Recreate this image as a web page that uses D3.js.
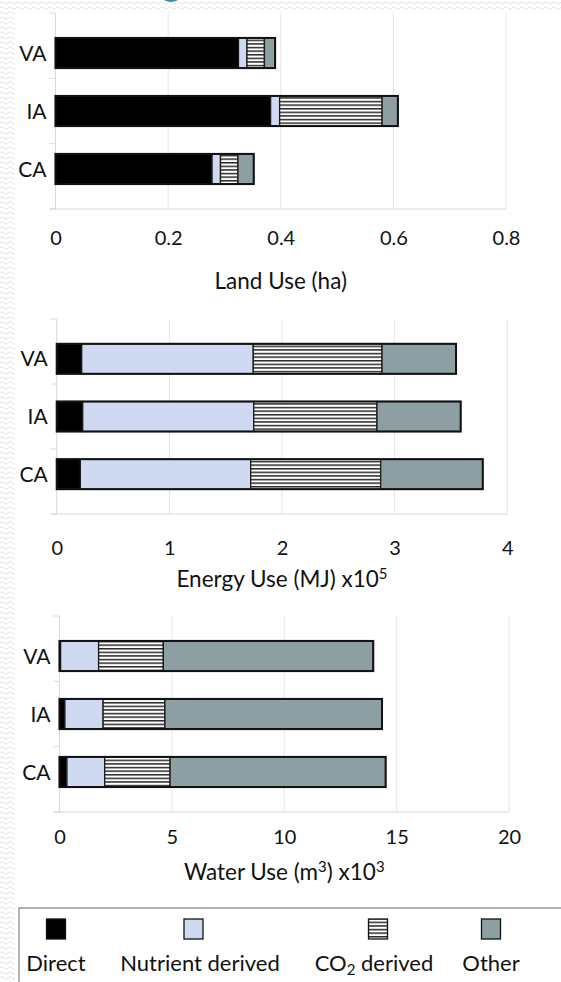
<!DOCTYPE html>
<html>
<head>
<meta charset="utf-8">
<script src="https://cdn.jsdelivr.net/npm/d3@7"></script>
<style>
  body { margin: 0; background: #fff; }
  svg text { font-family: Lato, "Open Sans", sans-serif; fill: #111; }
</style>
</head>
<body>
<div id="chart"></div>
<script>
// categories and series
var categories = ["VA", "IA", "CA"];
var seriesNames = ["Direct", "Nutrient derived", "CO2 derived", "Other"];

// land use (ha)
var landDirect   = [0.325, 0.382, 0.278];
var landNutrient = [0.015, 0.016, 0.015];
var landCO2      = [0.031, 0.182, 0.031];
var landOther    = [0.019, 0.028, 0.028];
var landTicks    = [0, 0.2, 0.4, 0.6, 0.8];

// energy use (MJ x10^5)
var energyDirect   = [0.222, 0.231, 0.210];
var energyNutrient = [1.523, 1.518, 1.512];
var energyCO2      = [1.143, 1.094, 1.154];
var energyOther    = [0.657, 0.743, 0.906];
var energyTicks    = [0, 1, 2, 3, 4];

// water use (m3 x10^3)
var waterDirect   = [0.05, 0.24, 0.33];
var waterNutrient = [1.69, 1.70, 1.68];
var waterCO2      = [2.88, 2.75, 2.91];
var waterOther    = [9.34, 9.66, 9.59];
var waterTicks    = [0, 5, 10, 15, 20];

var W = 561, H = 982;

var svg = d3.select("#chart")
  .append("svg")
    .attr("width", W)
    .attr("height", H);

var defs = svg.append("defs");

// wavy slide background
var wave = defs.append("pattern")
  .attr("id", "wave")
  .attr("patternUnits", "userSpaceOnUse")
  .attr("width", 8).attr("height", 5);
wave.append("path")
  .attr("d", "M0,3 Q2,0.5 4,3 T8,3")
  .attr("fill", "none")
  .attr("stroke", "#e2e2e2")
  .attr("stroke-width", 1);

var hatch = defs.append("pattern")
  .attr("id", "hatch")
  .attr("patternUnits", "userSpaceOnUse")
  .attr("width", 6).attr("height", 3.6);
hatch.append("rect").attr("width", 6).attr("height", 3.6).attr("fill", "#fff");
hatch.append("rect").attr("y", 0).attr("width", 6).attr("height", 1.5).attr("fill", "#2a2a2a");

svg.append("rect").attr("width", W).attr("height", 12).attr("fill", "url(#wave)");
svg.append("rect").attr("y", 12).attr("width", 15).attr("height", H - 12).attr("fill", "url(#wave)");
svg.append("ellipse")
  .attr("cx", 171).attr("cy", -4).attr("rx", 9).attr("ry", 6)
  .attr("fill", "#3d8fa8");

var fills = ["#000", "#cfd9f1", "url(#hatch)", "#8e9fa3"];

function drawPanel(cfg) {
  var x = d3.scaleLinear()
    .domain([cfg.ticks[0], cfg.ticks[cfg.ticks.length - 1]])
    .range([cfg.left, cfg.right]);

  var y = d3.scaleBand()
    .domain(categories)
    .range([cfg.top, cfg.bottom])
    .paddingInner(0.48)
    .paddingOuter(0.43);

  var g = svg.append("g");

  // gridlines
  g.selectAll(".grid")
    .data(cfg.ticks.slice(1))
    .enter().append("line")
      .attr("x1", function(d) { return x(d); })
      .attr("x2", function(d) { return x(d); })
      .attr("y1", cfg.top)
      .attr("y2", cfg.bottom)
      .attr("stroke", "#e6e6e6");

  // left axis with category boundary ticks
  g.append("line")
    .attr("x1", x(0)).attr("x2", x(0))
    .attr("y1", cfg.top).attr("y2", cfg.bottom)
    .attr("stroke", "#d8d8d8");
  var cy = d3.scaleLinear().domain([0, categories.length]).range([cfg.top, cfg.bottom]);
  g.selectAll(".ctick")
    .data(d3.range(categories.length + 1))
    .enter().append("line")
      .attr("x1", x(0) - 6).attr("x2", x(0))
      .attr("y1", function(d) { return cy(d); })
      .attr("y2", function(d) { return cy(d); })
      .attr("stroke", "#d8d8d8");

  // bottom axis
  var xAxis = g.append("g")
    .attr("transform", "translate(0," + cfg.bottom + ")")
    .call(d3.axisBottom(x).tickValues(cfg.ticks).tickSize(0).tickPadding(cfg.tickPad)
      .tickFormat(function(d) { return String(d); }));
  xAxis.select(".domain").remove();
  xAxis.append("line")
    .attr("x1", x(0) - 6).attr("x2", cfg.right)
    .attr("stroke", "#d8d8d8");
  xAxis.selectAll(".tick text")
    .style("font-size", "20px")
    .attr("fill", "#111");

  // category labels
  g.selectAll(".cat")
    .data(categories)
    .enter().append("text")
      .attr("x", x(0) - 9)
      .attr("y", function(d) { return y(d) + y.bandwidth() / 2; })
      .attr("dy", "0.36em")
      .attr("text-anchor", "end")
      .style("font-size", "21px")
      .text(function(d) { return d; });

  // stacked segments
  var rows = categories.map(function(c, i) {
    var r = { cat: c };
    seriesNames.forEach(function(s, k) { r[s] = cfg.series[k][i]; });
    return r;
  });
  var stacked = d3.stack().keys(seriesNames)(rows);

  var layer = g.selectAll(".layer")
    .data(stacked)
    .enter().append("g")
      .attr("fill", function(d, k) { return fills[k]; });

  layer.selectAll("rect")
    .data(function(d) { return d; })
    .enter().append("rect")
      .attr("x", function(d) { return x(d[0]); })
      .attr("y", function(d) { return y(d.data.cat); })
      .attr("width", function(d) { return x(d[1]) - x(d[0]); })
      .attr("height", y.bandwidth())
      .attr("stroke", "#1a1a1a")
      .attr("stroke-width", 1.3);

  // outer outline
  g.selectAll(".outline")
    .data(rows)
    .enter().append("rect")
      .attr("x", x(0))
      .attr("y", function(d) { return y(d.cat); })
      .attr("width", function(d) { return x(d3.sum(seriesNames, function(s) { return d[s]; })) - x(0); })
      .attr("height", y.bandwidth())
      .attr("fill", "none")
      .attr("stroke", "#111")
      .attr("stroke-width", 2);

  // axis title
  var t = g.append("text")
    .attr("x", (cfg.left + cfg.right) / 2)
    .attr("y", cfg.titleY)
    .attr("text-anchor", "middle")
    .style("font-size", "22.5px");
  cfg.title.forEach(function(p) {
    var s = t.append("tspan").text(p.t);
    if (p.sup) s.attr("dy", "-8").style("font-size", "15px");
    else if (p.back) s.attr("dy", "8");
  });
}

drawPanel({
  series: [landDirect, landNutrient, landCO2, landOther],
  ticks: landTicks,
  left: 55.5, right: 506, top: 13, bottom: 209,
  tickPad: 22, titleY: 289,
  title: [{ t: "Land Use (ha)" }]
});

drawPanel({
  series: [energyDirect, energyNutrient, energyCO2, energyOther],
  ticks: energyTicks,
  left: 56.7, right: 507.3, top: 319, bottom: 514,
  tickPad: 27, titleY: 587,
  title: [{ t: "Energy Use (MJ) x10" }, { t: "5", sup: true }]
});

drawPanel({
  series: [waterDirect, waterNutrient, waterCO2, waterOther],
  ticks: waterTicks,
  left: 59.5, right: 509, top: 616, bottom: 812,
  tickPad: 18, titleY: 880,
  title: [{ t: "Water Use (m" }, { t: "3", sup: true }, { t: ") x10", back: true }, { t: "3", sup: true }]
});

// legend
var legend = svg.append("g");
legend.append("rect")
  .attr("x", 19).attr("y", 908)
  .attr("width", W).attr("height", 100)
  .attr("fill", "#fff")
  .attr("stroke", "#9a9a9a")
  .attr("stroke-width", 1.5);

var legendX = [56, 200, 374, 491];
var legendSymX = [56, 193.5, 378, 491];

var item = legend.selectAll(".item")
  .data(seriesNames)
  .enter().append("g");

item.append("rect")
  .attr("x", function(d, i) { return legendSymX[i] - 9.5; })
  .attr("y", 919)
  .attr("width", 19).attr("height", 20)
  .attr("fill", function(d, i) { return fills[i]; })
  .attr("stroke", "#111")
  .attr("stroke-width", 1.3);

item.append("text")
  .attr("x", function(d, i) { return legendX[i]; })
  .attr("y", 971)
  .attr("text-anchor", "middle")
  .style("font-size", "22px")
  .each(function(d) {
    var el = d3.select(this);
    if (d === "CO2 derived") {
      el.append("tspan").text("CO");
      el.append("tspan").text("2").attr("dy", "4").style("font-size", "15px");
      el.append("tspan").text(" derived").attr("dy", "-4");
    } else {
      el.text(d);
    }
  });
</script>
</body>
</html>
